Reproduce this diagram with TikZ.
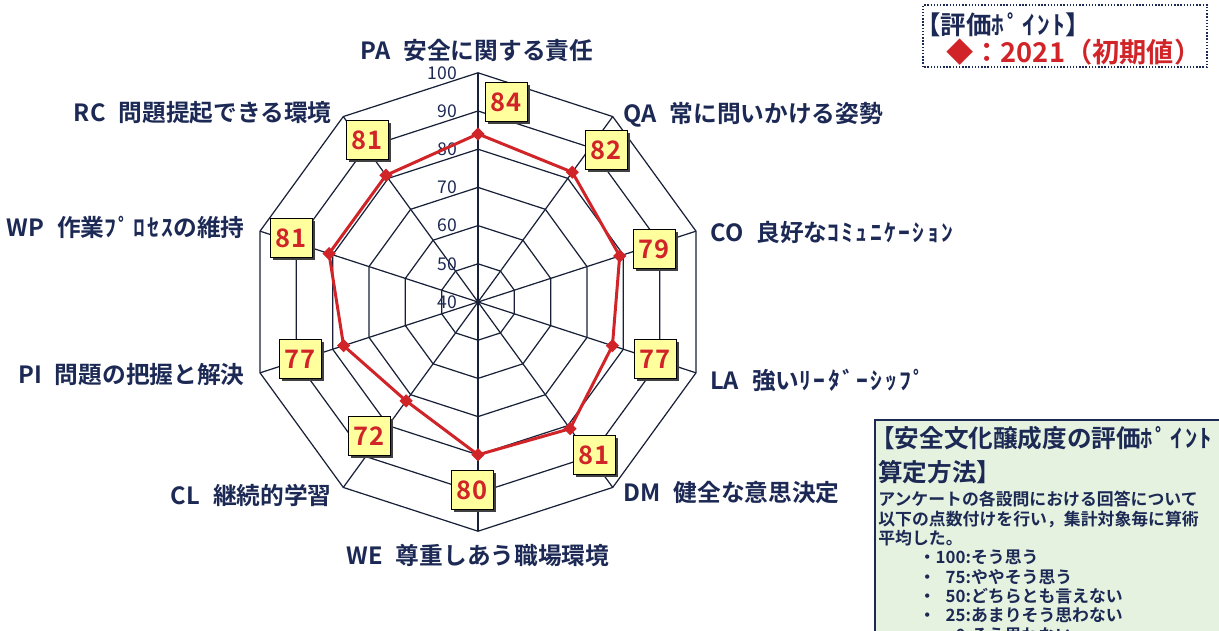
\documentclass[tikz,border=0pt]{standalone}
\usepackage{fontspec}
\setmainfont{Noto Sans CJK JP}[BoldFont={Noto Sans CJK JP Bold}]
\usepackage{tikz}
\usetikzlibrary{shapes}
\usetikzlibrary{shadows}
\definecolor{navy}{rgb}{0.11,0.16,0.33}
\definecolor{gridcol}{rgb}{0.10,0.13,0.22}
\definecolor{valred}{rgb}{0.82,0.14,0.16}
\definecolor{boxyel}{rgb}{1,1,0.62}
\definecolor{boxgreen}{rgb}{0.90,0.95,0.88}
\newcommand\hw[1]{{\addfontfeature{LetterSpace=10}#1}}
\newcommand\gap{\hspace{0.55em}}

\begin{document}
\begin{tikzpicture}[x=0.02cm,y=0.02cm,
  every node/.style={text=navy,font=\bfseries},
  axlabel/.style={inner sep=0pt,font=\fontsize{13.5}{16}\bfseries\selectfont},
  valbox/.style={draw=black,fill=boxyel,minimum width=0.84cm,minimum height=0.78cm,inner sep=0pt,
    text=valred,font=\fontsize{14.5}{16}\bfseries\selectfont,
    general shadow={fill=black!75,shadow xshift=1.6pt,shadow yshift=-1.6pt}},
  dot/.style={diamond,fill=valred,inner sep=0pt,minimum size=0.27cm}]

  \clip (0,0) rectangle (1219,630);

  \begin{scope}[shift={(478,328)}]
    \coordinate (c) at (0,0);
    % rings and spokes
    \foreach \l in {50,60,...,100}
      \draw [gridcol,line width=0.7pt] (90:{(\l-40)*3.82})
        \foreach \k in {1,...,9}{ -- ({90-36*\k}:{(\l-40)*3.82}) } -- cycle;
    \foreach \k in {0,...,9}
      \draw [gridcol,line width=0.7pt] (c) -- ({90-36*\k}:229) coordinate (o\k);
    \foreach \l in {40,50,...,100}
      \node [anchor=east,font=\fontsize{10}{12}\selectfont] (s\l) at (-15,{(\l-40)*3.82}) {\l};

    % data line
    \foreach \v [count=\k from 0] in {84,82,79,77,81,80,72,77,81,81}
      \coordinate (p\k) at ({90-36*\k}:{(\v-40)*3.82});
    \draw [valred,line width=1.7pt,line join=round] (p0) -- (p1) -- (p2) -- (p3) -- (p4)
      -- (p5) -- (p6) -- (p7) -- (p8) -- (p9) -- cycle;
    \foreach \k in {0,...,9}
      \node [dot] (m\k) at (p\k) {};

    % value boxes
    \foreach \v/\bx/\by [count=\k from 0] in {84/28/200,82/128/152,79/176/53,77/177/-57,81/116/-153,
        80/-6/-188,72/-109/-134,77/-178/-57,81/-187/64,81/-111/162}
      \node [valbox] (b\k) at (\bx,\by) {\v};

    % axis labels
    \node [axlabel] (a0) at (-1,252) {PA\gap 安全に関する責任};
    \node [axlabel,anchor=west] (a1) at (145,187) {QA\gap 常に問いかける姿勢};
    \node [axlabel,anchor=west] (a2) at (232,70) {CO\gap 良好な\hw{ｺﾐｭﾆｹｰｼｮﾝ}};
    \node [axlabel,anchor=west] (a3) at (232,-78) {LA\gap 強い\hw{ﾘｰﾀﾞｰｼｯﾌﾟ}};
    \node [axlabel,anchor=west] (a4) at (145,-191) {DM\gap 健全な意思決定};
    \node [axlabel] (a5) at (0,-253) {WE\gap 尊重しあう職場環境};
    \node [axlabel,anchor=east] (a6) at (-146,-193) {CL\gap 継続的学習};
    \node [axlabel,anchor=east] (a7) at (-233,-73) {PI\gap 問題の把握と解決};
    \node [axlabel,anchor=east] (a8) at (-233,75) {WP\gap 作業\hw{ﾌﾟﾛｾｽ}の維持};
    \node [axlabel,anchor=east] (a9) at (-146,189) {RC\gap 問題提起できる環境};
  \end{scope}

  % legend
  \draw [navy,densely dotted,line width=0.8pt] (923,563) rectangle (1207,625);
  \node [anchor=west,inner sep=0pt,font=\fontsize{14.5}{16}\bfseries\selectfont] (lg1) at (915,605) {【評価\hw{ﾎﾟｲﾝﾄ}】};
  \node [anchor=west,inner sep=0pt,text=valred,font=\fontsize{15.5}{17}\bfseries\selectfont] (lg2) at (946,578) {◆：2021（初期値）};

  % method box
  \draw [navy,line width=1.1pt,fill=boxgreen] (875,210) rectangle (1240,-20);
  \node [anchor=west,inner sep=0pt,font=\fontsize{14}{16}\bfseries\selectfont] (t1) at (870,192) {【安全文化醸成度の評価\hw{ﾎﾟｲﾝﾄ}};
  \node [anchor=west,inner sep=0pt,font=\fontsize{14}{16}\bfseries\selectfont] (t2) at (878,158) {算定方法】};
  \node [anchor=north west,align=left,inner sep=0pt,font=\fontsize{9.6}{11}\bfseries\selectfont] (t3) at (878,139)
    {アンケートの各設問における回答について\\
     以下の点数付けを行い，集計対象毎に算術\\
     平均した。\\
     \hspace{2.4em}・100:そう思う\\
     \hspace{2.4em}・\phantom{1}75:ややそう思う\\
     \hspace{2.4em}・\phantom{1}50:どちらとも言えない\\
     \hspace{2.4em}・\phantom{1}25:あまりそう思わない\\
     \hspace{2.4em}・\phantom{10}0:そう思わない};
\end{tikzpicture}
\end{document}
